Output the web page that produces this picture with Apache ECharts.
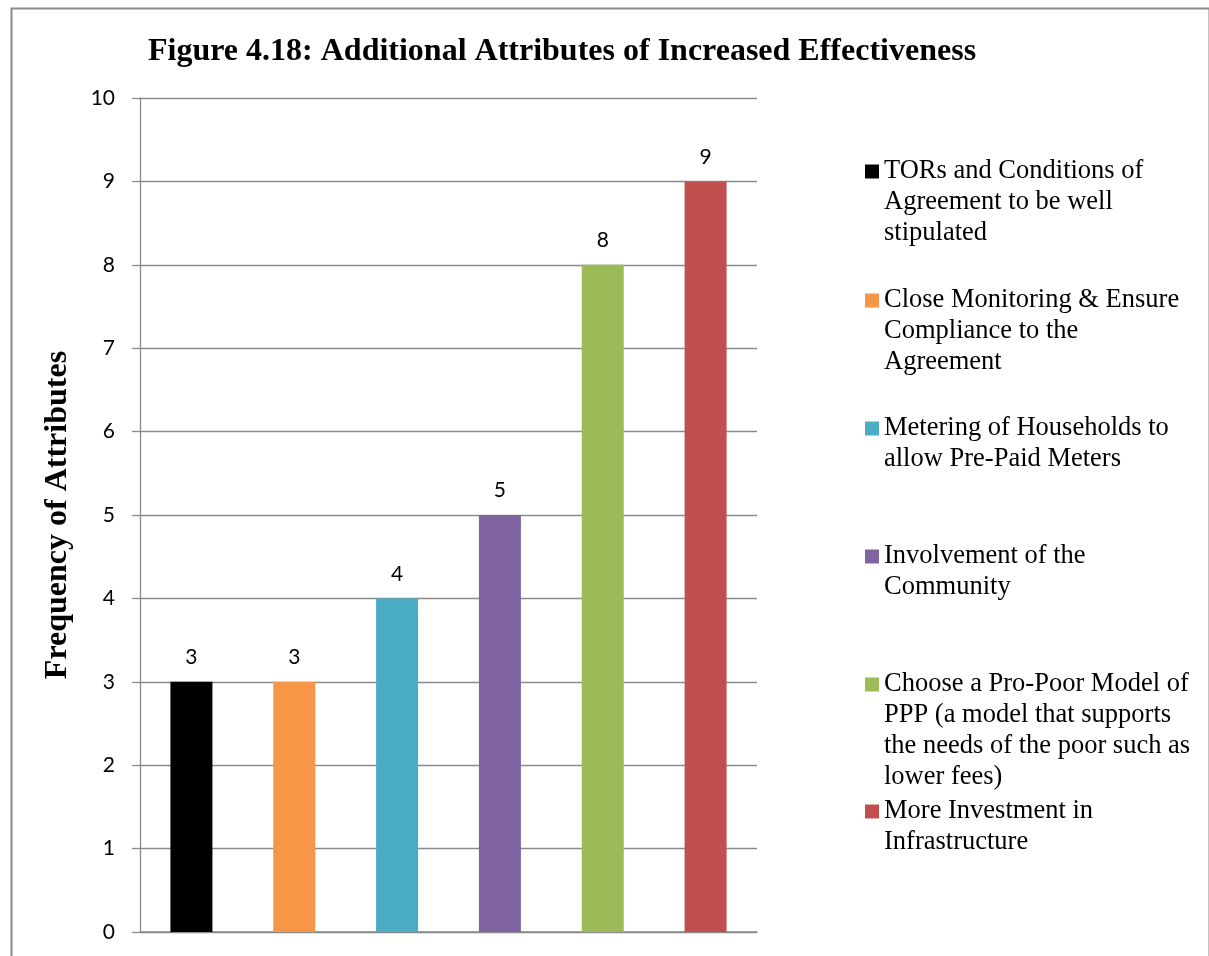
<!DOCTYPE html>
<html>
<head>
<meta charset="utf-8">
<script src="https://cdn.jsdelivr.net/npm/echarts@6/dist/echarts.min.js"></script>
<style>
  html, body { margin: 0; padding: 0; background: #ffffff; }
  #chart { width: 1209px; height: 956px; }
</style>
</head>
<body>
<div id="chart"></div>
<script>
const titleText = 'Figure 4.18: Additional Attributes of Increased Effectiveness';
const yAxisName = 'Frequency of Attributes';
const categories = [
  'TORs and Conditions of Agreement to be well stipulated',
  'Close Monitoring & Ensure Compliance to the Agreement',
  'Metering of Households to allow Pre-Paid Meters',
  'Involvement of the Community',
  'Choose a Pro-Poor Model of PPP (a model that supports the needs of the poor such as lower fees)',
  'More Investment in Infrastructure'
];
const legendLines = [
  ['TORs and Conditions of', 'Agreement to be well', 'stipulated'],
  ['Close Monitoring & Ensure', 'Compliance to the', 'Agreement'],
  ['Metering of Households to', 'allow Pre-Paid Meters'],
  ['Involvement of the', 'Community'],
  ['Choose a Pro-Poor Model of', 'PPP (a model that supports', 'the needs of the poor such as', 'lower fees)'],
  ['More Investment in', 'Infrastructure']
];
const values = [3, 3, 4, 5, 8, 9];
const colors = ['#000000', '#F79646', '#4BACC6', '#8064A2', '#9BBB59', '#C0504D'];
const yTicks = [0, 1, 2, 3, 4, 5, 6, 7, 8, 9, 10];

const serif = '"Liberation Serif", "Times New Roman", serif';
const sans = 'Lato, "Liberation Sans", sans-serif';
const gray = '#8a8a8a';

const legendTops = [158, 287, 415, 543, 671, 798];

const rich = {
  t: { fontFamily: serif, fontSize: 26.5, lineHeight: 31, color: '#000000' },
  g: { width: 5, height: 1 },
  ind: { width: 19, height: 1 }
};
colors.forEach((c, i) => { rich['sq' + i] = { width: 14, height: 14, backgroundColor: c }; });

const series = categories.map((name, i) => ({
  name: name,
  type: 'bar',
  stack: 'all',
  barWidth: 42,
  itemStyle: { color: colors[i] },
  label: {
    show: true,
    position: 'top',
    distance: 14,
    fontFamily: sans,
    fontSize: 21,
    color: '#000000'
  },
  data: categories.map((c, j) => (j === i ? values[i] : '-'))
}));

const legends = categories.map((name, i) => ({
  data: [name],
  left: 860,
  top: legendTops[i],
  orient: 'vertical',
  padding: 0,
  icon: 'rect',
  itemWidth: 0,
  itemHeight: 0,
  selectedMode: false,
  formatter: function () {
    return legendLines[i].map((ln, k) =>
      (k === 0 ? '{sq' + i + '|}{g|}' : '{ind|}') + '{t|' + ln + '}'
    ).join('\n');
  },
  textStyle: { rich: rich }
}));

const chart = echarts.init(document.getElementById('chart'), null, { renderer: 'canvas' });
chart.setOption({
  animation: false,
  backgroundColor: '#ffffff',
  title: {
    text: titleText,
    left: 148,
    top: 36,
    padding: 0,
    textStyle: { fontFamily: serif, fontWeight: 'bold', fontSize: 32, color: '#000000' }
  },
  graphic: [{
    type: 'rect',
    left: 9,
    top: 6,
    shape: { width: 1198, height: 1000 },
    style: { fill: 'none', stroke: gray, lineWidth: 2 },
    silent: true
  }],
  legend: legends,
  grid: { left: 140, right: 452, top: 98, bottom: 24, containLabel: false },
  xAxis: {
    type: 'category',
    data: categories,
    axisLine: { show: true, lineStyle: { color: gray, width: 1.5 } },
    axisTick: { show: false },
    axisLabel: { show: false },
    splitLine: { show: false }
  },
  yAxis: {
    type: 'value',
    min: yTicks[0],
    max: yTicks[yTicks.length - 1],
    interval: 1,
    name: yAxisName,
    nameLocation: 'middle',
    nameRotate: 90,
    nameGap: 66,
    nameTextStyle: { fontFamily: serif, fontWeight: 'bold', fontSize: 32, color: '#000000' },
    axisLine: { show: true, lineStyle: { color: gray, width: 1.3 } },
    axisTick: { show: true, inside: false, length: 8, lineStyle: { color: gray, width: 1.3 } },
    axisLabel: { margin: 25, fontFamily: sans, fontSize: 21, color: '#000000' },
    splitLine: { show: true, lineStyle: { color: gray, width: 1.3 } }
  },
  series: series
});
</script>
</body>
</html>
